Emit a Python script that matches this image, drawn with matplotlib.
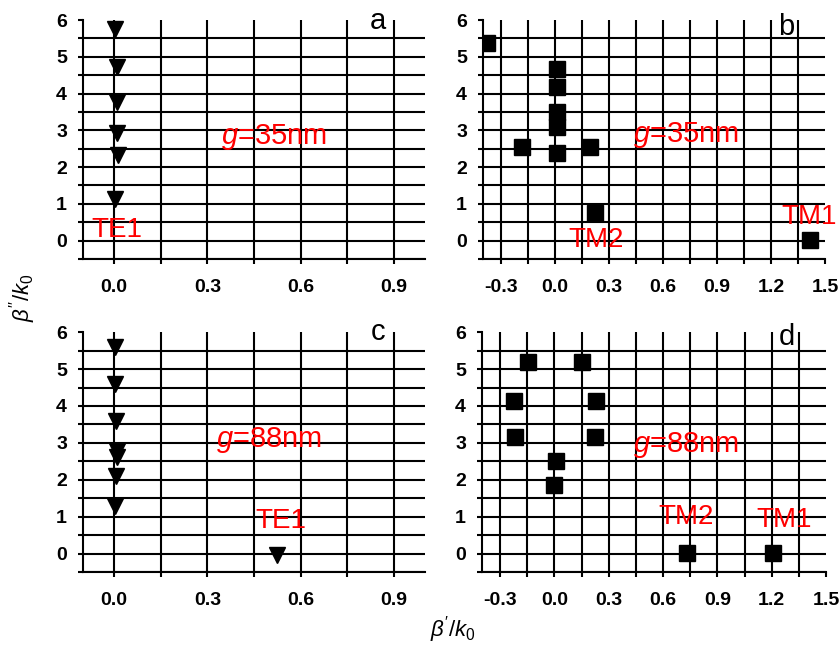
import matplotlib
matplotlib.use('Agg')
import matplotlib.pyplot as plt
from matplotlib.ticker import MultipleLocator, FormatStrFormatter

plt.rcParams['font.family'] = ['Liberation Sans', 'DejaVu Sans']
plt.rcParams['mathtext.fontset'] = 'custom'
plt.rcParams['mathtext.rm'] = 'Liberation Sans'
plt.rcParams['mathtext.it'] = 'Liberation Sans:italic'
plt.rcParams['mathtext.bf'] = 'Liberation Sans:bold'

# panel a: TE modes, g=35nm
a_re = [0.002, 0.008, 0.008, 0.010, 0.013, 0.002]
a_im = [5.76, 4.72, 3.78, 2.92, 2.33, 1.14]

# panel b: TM modes, g=35nm
b_re = [-0.38, 0.01, 0.01, 0.012, 0.01, -0.186, 0.012, 0.197, 0.22, 1.416]
b_im = [5.37, 4.67, 4.17, 3.49, 3.09, 2.54, 2.38, 2.56, 0.75, 0.01]

# panel c: TE modes, g=88nm
c_re = [0.002, 0.004, 0.005, 0.008, 0.008, 0.006, 0.002, 0.523]
c_im = [5.59, 4.60, 3.60, 2.79, 2.61, 2.11, 1.29, -0.05]

# panel d: TM modes, g=88nm
d_re = [-0.147, 0.151, -0.222, 0.231, -0.216, 0.225, 0.011, 0.0, 0.73, 1.205]
d_im = [5.18, 5.18, 4.14, 4.14, 3.17, 3.17, 2.52, 1.87, 0.02, 0.02]

fig = plt.figure(figsize=(8.4, 6.5), dpi=100)

axa = fig.add_axes([0.0988, 0.6015, 0.4071, 0.3677])
axb = fig.add_axes([0.575, 0.6015, 0.407, 0.3677])
axc = fig.add_axes([0.0988, 0.12, 0.4071, 0.369])
axd = fig.add_axes([0.5738, 0.12, 0.4095, 0.369])

def style(ax, xlim):
    ax.set_xlim(*xlim)
    ax.set_ylim(-0.5, 6)
    ax.xaxis.set_major_locator(MultipleLocator(0.3))
    ax.xaxis.set_minor_locator(MultipleLocator(0.15))
    ax.yaxis.set_major_locator(MultipleLocator(1))
    ax.yaxis.set_minor_locator(MultipleLocator(0.5))
    ax.xaxis.set_major_formatter(FormatStrFormatter('%.1f'))
    ax.set_axisbelow(True)
    ax.grid(which='both', color='black', lw=1.5)
    ax.spines['top'].set_visible(False)
    ax.spines['right'].set_visible(False)
    for s in ['left', 'bottom']:
        ax.spines[s].set_linewidth(1.5)
    ax.tick_params(which='both', direction='out', length=3.5, width=1.5)
    ax.tick_params(axis='x', which='major', pad=11, labelsize=14)
    ax.tick_params(axis='y', which='major', pad=8, labelsize=14)

style(axa, (-0.1, 1.0))
style(axb, (-0.4, 1.5))
style(axc, (-0.1, 1.0))
style(axd, (-0.4, 1.5))

axa.plot(a_re, a_im, 'kv', ms=12, ls='none')
axc.plot(c_re, c_im, 'kv', ms=12, ls='none', clip_on=False)
axb.plot(b_re, b_im, 'ks', ms=11, ls='none')
axd.plot(d_re, d_im, 'ks', ms=11, ls='none')

red = '#ff0000'
fs = 20
axa.text(0.513, 2.83, '$g$=35nm', color=red, fontsize=21, ha='center', va='center')
axa.text(0.01, 0.30, 'TE1', color=red, fontsize=fs, ha='center', va='center')
axb.text(0.728, 2.88, '$g$=35nm', color=red, fontsize=21, ha='center', va='center')
axb.text(0.228, 0.03, 'TM2', color=red, fontsize=fs, ha='center', va='center')
axb.text(1.41, 0.65, 'TM1', color=red, fontsize=fs, ha='center', va='center')
axc.text(0.50, 3.07, '$g$=88nm', color=red, fontsize=21, ha='center', va='center')
axc.text(0.535, 0.87, 'TE1', color=red, fontsize=fs, ha='center', va='center')
axd.text(0.728, 2.93, '$g$=88nm', color=red, fontsize=21, ha='center', va='center')
axd.text(0.728, 0.98, 'TM2', color=red, fontsize=fs, ha='center', va='center')
axd.text(1.27, 0.90, 'TM1', color=red, fontsize=fs, ha='center', va='center')

axa.text(0.85, 5.76, 'a', fontsize=21, ha='center', va='baseline')
axb.text(1.283, 5.6, 'b', fontsize=21, ha='center', va='baseline')
axc.text(0.85, 5.79, 'c', fontsize=21, ha='center', va='baseline')
axd.text(1.283, 5.65, 'd', fontsize=21, ha='center', va='baseline')

fig.text(0.027, 0.542, r"$\beta''/k_0$", rotation=90, fontsize=16, ha='center', va='center')
fig.text(0.539, 0.032, r"$\beta'/k_0$", fontsize=16, ha='center', va='center')

# hide gridlines lying on the open top/right edges, make tick labels bold
fig.canvas.draw()
for ax in [axa, axb, axc, axd]:
    for t in ax.yaxis.get_major_ticks():
        if abs(t.get_loc() - 6) < 1e-6:
            t.gridline.set_visible(False)
    for t in ax.xaxis.get_major_ticks():
        if abs(t.get_loc() - 1.5) < 1e-6:
            t.gridline.set_visible(False)
    for lab in ax.get_xticklabels() + ax.get_yticklabels():
        lab.set_fontweight('bold')

fig.savefig('out.png', dpi=100)
